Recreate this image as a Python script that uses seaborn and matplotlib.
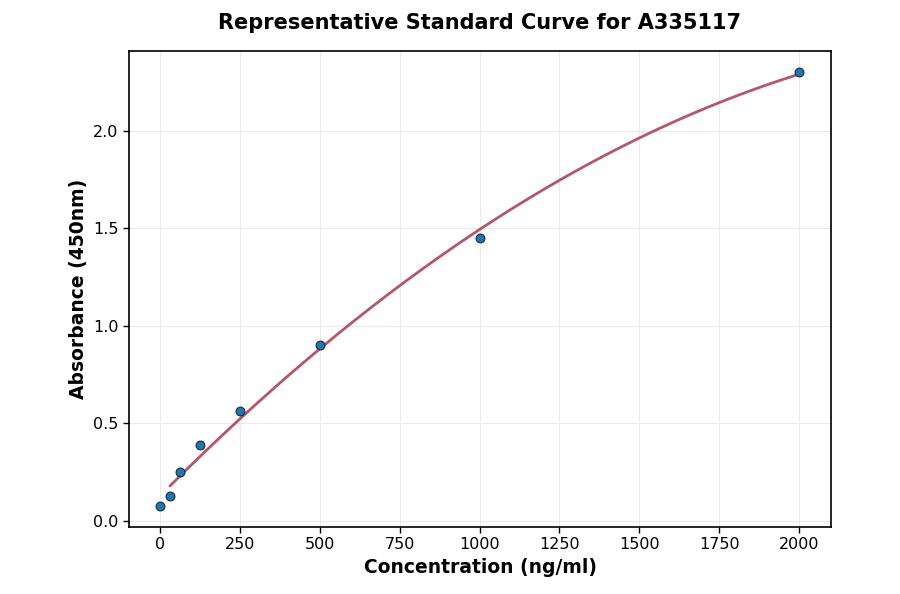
import numpy as np
import pandas as pd
import matplotlib
matplotlib.use("Agg")
import matplotlib.pyplot as plt
import seaborn as sns

conc = [0, 31.25, 62.5, 125, 250, 500, 1000, 2000]
absorb = [0.077, 0.128, 0.25, 0.39, 0.565, 0.90, 1.45, 2.30]

sns.set_theme(style="whitegrid")
plt.rcParams['font.family'] = ['DejaVu Sans']

df = pd.DataFrame({"conc": conc, "abs": absorb})
coef = np.polyfit(df["conc"], df["abs"], 2)
xs = np.linspace(31.25, 2000, 300)
ys = np.polyval(coef, xs)

fig = plt.figure(figsize=(9, 5.94), dpi=100)
ax = fig.add_axes([129/900, 1-527/594, (831-129)/900, (527-51)/594])
sns.lineplot(x=xs, y=ys, ax=ax, color="#b5566a", linewidth=2, zorder=2)
sns.scatterplot(data=df, x="conc", y="abs", ax=ax, color="#1f77b4", edgecolor="#1a2a3a",
                linewidth=0.8, s=40, zorder=3)
ax.set_xlim(-97, 2100)
ax.set_ylim(-0.031, 2.41)
ax.set_xticks([0, 250, 500, 750, 1000, 1250, 1500, 1750, 2000])
ax.set_yticks([0.0, 0.5, 1.0, 1.5, 2.0])
ax.set_yticklabels(["0.0", "0.5", "1.0", "1.5", "2.0"])
ax.grid(True, color="#ebebeb", linewidth=0.8)
ax.set_facecolor("white")
for s in ax.spines.values():
    s.set_color("black")
    s.set_linewidth(1.2)
ax.tick_params(axis="both", labelsize=11.5, colors="black", length=4, width=1, direction="out",
               left=True, bottom=True)
ax.set_xlabel("Concentration (ng/ml)", fontsize=13.5, fontweight="bold", color="black")
ax.set_ylabel("Absorbance (450nm)", fontsize=13.5, fontweight="bold", color="black")
ax.set_title("Representative Standard Curve for A335117", fontsize=15, fontweight="bold",
             color="black", pad=16)
fig.savefig("out.png", dpi=100)
